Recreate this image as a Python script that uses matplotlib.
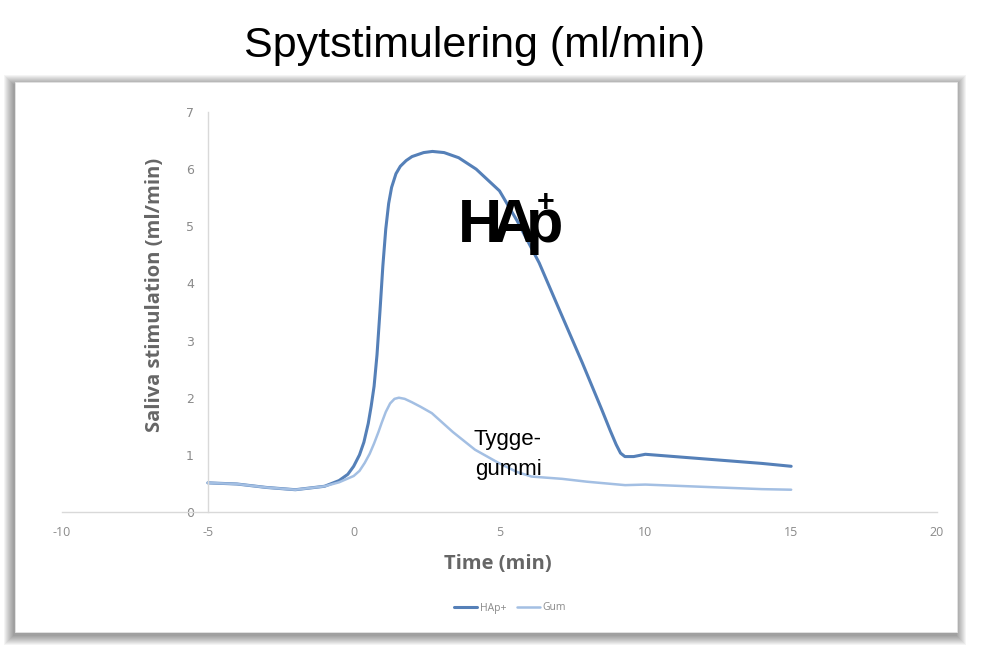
import matplotlib
matplotlib.use('Agg')
import matplotlib.pyplot as plt
from matplotlib.patches import Rectangle

title = "Spytstimulering (ml/min)"
x_label = "Time (min)"
y_label = "Saliva stimulation (ml/min)"
series_names = ["HAp+", "Gum"]

hap_x = [-5, -4, -3, -2, -1, -0.5, -0.2, 0, 0.2, 0.35, 0.5, 0.6, 0.7, 0.8, 0.9, 1.0, 1.1, 1.2, 1.3, 1.45, 1.6, 1.8, 2.0, 2.4, 2.7, 3.1, 3.6, 4.2, 5.0, 5.6, 6.36, 7.0, 7.84, 8.5, 8.8, 9.0, 9.15, 9.3, 9.6, 10.0, 11, 12, 13, 14, 15]
hap_y = [0.51, 0.49, 0.43, 0.39, 0.45, 0.55, 0.66, 0.80, 1.0, 1.22, 1.55, 1.85, 2.2, 2.75, 3.5, 4.3, 4.95, 5.4, 5.68, 5.92, 6.05, 6.15, 6.22, 6.29, 6.31, 6.29, 6.2, 6.0, 5.62, 5.1, 4.36, 3.6, 2.61, 1.8, 1.42, 1.18, 1.03, 0.97, 0.97, 1.01, 0.97, 0.93, 0.89, 0.85, 0.80]

gum_x = [-5, -4, -3, -2, -1, -0.5, 0, 0.2, 0.38, 0.55, 0.7, 0.85, 0.96, 1.1, 1.25, 1.4, 1.55, 1.75, 2.0, 2.3, 2.68, 3.4, 4.16, 5.0, 5.6, 6.1, 7.15, 8.0, 9.31, 10.0, 11, 12, 13, 14, 15]
gum_y = [0.51, 0.49, 0.43, 0.39, 0.45, 0.52, 0.63, 0.72, 0.86, 1.02, 1.2, 1.4, 1.56, 1.75, 1.9, 1.98, 2.0, 1.98, 1.92, 1.84, 1.73, 1.4, 1.09, 0.85, 0.7, 0.62, 0.58, 0.53, 0.47, 0.48, 0.46, 0.44, 0.42, 0.40, 0.39]

x_ticks = [-10, -5, 0, 5, 10, 15, 20]
y_ticks = [0, 1, 2, 3, 4, 5, 6, 7]

plt.rcParams['mathtext.fontset'] = 'custom'
plt.rcParams['mathtext.rm'] = 'Liberation Sans:bold'
plt.rcParams['mathtext.bf'] = 'Liberation Sans:bold'

W, H = 1000, 652
fig = plt.figure(figsize=(10, 6.52), dpi=100)

def fx(px):
    return px / W

def fy(py):
    return 1 - py / H

# soft panel shadow
for i in range(10):
    d = 10 - i
    fig.patches.append(Rectangle((fx(15 - d - 1), fy(632 + d + 3)), (942 + 2 * d) / W, (550 + 2 * d) / H,
                                 transform=fig.transFigure, facecolor='black', edgecolor='none',
                                 alpha=0.045, zorder=0))
fig.patches.append(Rectangle((fx(15), fy(632)), 942 / W, 550 / H, transform=fig.transFigure,
                             facecolor='white', edgecolor='#e4e4e4', lw=0.6, zorder=1))

ax = fig.add_axes([fx(62), fy(512), 875 / W, 400 / H])
ax.set_facecolor('none')
ax.set_zorder(2)
ax.plot(hap_x, hap_y, color='#5580b8', lw=2.2, label=series_names[0], solid_capstyle='round',
        solid_joinstyle='round')
ax.plot(gum_x, gum_y, color='#a3bfe3', lw=1.8, label=series_names[1], solid_capstyle='round',
        solid_joinstyle='round')
ax.set_xlim(-10, 20)
ax.set_ylim(0, 7)
ax.set_xticks(x_ticks)
ax.set_yticks(y_ticks)
ax.set_xticklabels([str(t) for t in x_ticks], family='Open Sans')
ax.set_yticklabels([str(t) for t in y_ticks], family='Open Sans')
ax.spines['left'].set_position(('data', -5))
ax.spines['top'].set_visible(False)
ax.spines['right'].set_visible(False)
for s in ['left', 'bottom']:
    ax.spines[s].set_color('#d9d9d9')
    ax.spines[s].set_linewidth(1.0)
ax.tick_params(length=0, colors='#8a8a8a', labelsize=9)
ax.tick_params(axis='x', pad=10)
ax.tick_params(axis='y', pad=10)

fig.text(fx(155), fy(295), y_label, rotation=90, ha='center', va='center',
         fontsize=14.5, fontweight='bold', color='#666666', family='Open Sans')
fig.text(fx(498), fy(564), x_label, ha='center', va='center',
         fontsize=14.5, fontweight='bold', color='#666666', family='Open Sans')

leg = ax.legend(loc='center', bbox_to_anchor=(fx(510), fy(608)), bbox_transform=fig.transFigure,
                ncol=2, frameon=False, labelcolor='#8a8a8a', handlelength=2.2,
                columnspacing=1.0, handletextpad=0.3, prop={'family': 'Open Sans', 'size': 7.5})

fig.text(fx(475), fy(57), title, ha='center', va='baseline', fontsize=31,
         family='Liberation Sans', color='black')

# HAp+ logo (tight letter spacing via negative math spaces)
fig.text(fx(457), fy(242), r"$\mathrm{H\!A\!p}$", ha='left', va='baseline', fontsize=44,
         color='black', zorder=5)
fig.text(fx(546), fy(203), "+", ha='center', va='center', fontsize=22, fontweight='bold',
         family='Liberation Sans', color='black', zorder=5)

fig.text(fx(507), fy(445), "Tygge-", ha='center', va='baseline', fontsize=16,
         family='Liberation Sans', color='black', zorder=5)
fig.text(fx(509), fy(475), "gummi", ha='center', va='baseline', fontsize=16,
         family='Liberation Sans', color='black', zorder=5)

fig.savefig('out.png', dpi=100, facecolor='white')
